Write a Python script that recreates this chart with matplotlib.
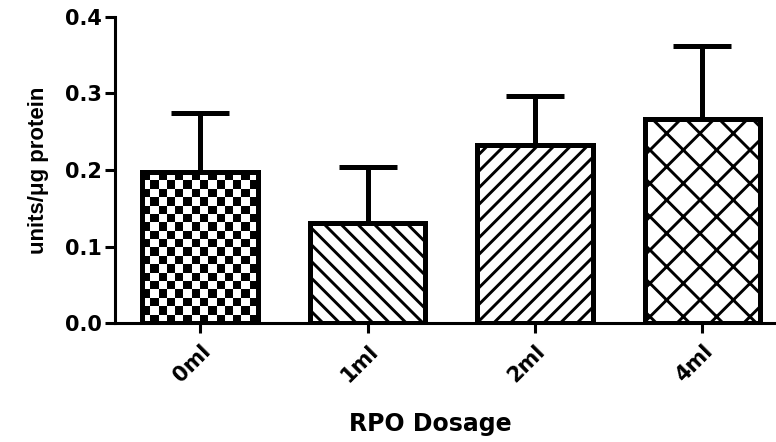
import numpy as np
import matplotlib.pyplot as plt

plt.rcParams['font.family'] = ['DejaVu Sans']
plt.rcParams['hatch.linewidth'] = 2.1

# data
doses = ['0ml', '1ml', '2ml', '4ml']
means = [0.197, 0.131, 0.233, 0.267]
sem = [0.078, 0.073, 0.064, 0.095]
hatches = [None, '\\\\', '//', 'x']

fig = plt.figure(figsize=(7.76, 4.42), dpi=100)
ax = fig.add_axes([0.148, 0.269, 0.852, 0.693])

x = np.arange(len(doses))
bars = ax.bar(x, means, width=0.69, color='white', edgecolor='black',
              linewidth=3.6, zorder=2)
for b, h in zip(bars, hatches):
    if h:
        b.set_hatch(h)

ax.errorbar(x, means, yerr=[np.zeros(len(sem)), sem], fmt='none', ecolor='black',
            elinewidth=3.6, capsize=21, capthick=3.6, zorder=1)

ax.set_xlim(-0.51, 3.44)
ax.set_ylim(0, 0.4)

# checkerboard fill for the first bar
b0 = bars[0]
b0.set_facecolor('none')
bx, by, bw, bh = b0.get_x(), b0.get_y(), b0.get_width(), b0.get_height()
p0 = ax.transData.transform((bx, by))
p1 = ax.transData.transform((bx + bw, by + bh))
ncols = int(round((p1[0] - p0[0]) / 8.5))
nrows = int(round((p1[1] - p0[1]) / 8.3))
checker = (np.indices((nrows, ncols)).sum(axis=0) % 2).astype(float)
im = ax.imshow(checker, extent=[bx, bx + bw, by, by + bh], cmap='gray',
               interpolation='nearest', aspect='auto', zorder=1.5)
ax.set_xlim(-0.51, 3.44)
ax.set_ylim(0, 0.4)

ax.set_yticks([0.0, 0.1, 0.2, 0.3, 0.4])
ax.set_yticklabels(['0.0', '0.1', '0.2', '0.3', '0.4'], fontsize=15, fontweight='bold')
ax.set_xticks(x)
ax.set_xticklabels(doses, rotation=45, ha='right', rotation_mode='anchor',
                   fontsize=15, fontweight='bold')
ax.tick_params(axis='both', width=2.2, length=7)
ax.tick_params(axis='y', pad=2)
ax.tick_params(axis='x', pad=6)

for s in ['top', 'right']:
    ax.spines[s].set_visible(False)
for s in ['left', 'bottom']:
    ax.spines[s].set_linewidth(2.2)

ax.set_ylabel('units/μg protein', fontsize=16, fontweight='bold',
              family=['Liberation Sans', 'DejaVu Sans'], labelpad=12)
ax.set_xlabel('RPO Dosage', fontsize=17, fontweight='bold', labelpad=22)
ax.xaxis.set_label_coords(0.477, -0.29)

fig.savefig('out.png', dpi=100)
